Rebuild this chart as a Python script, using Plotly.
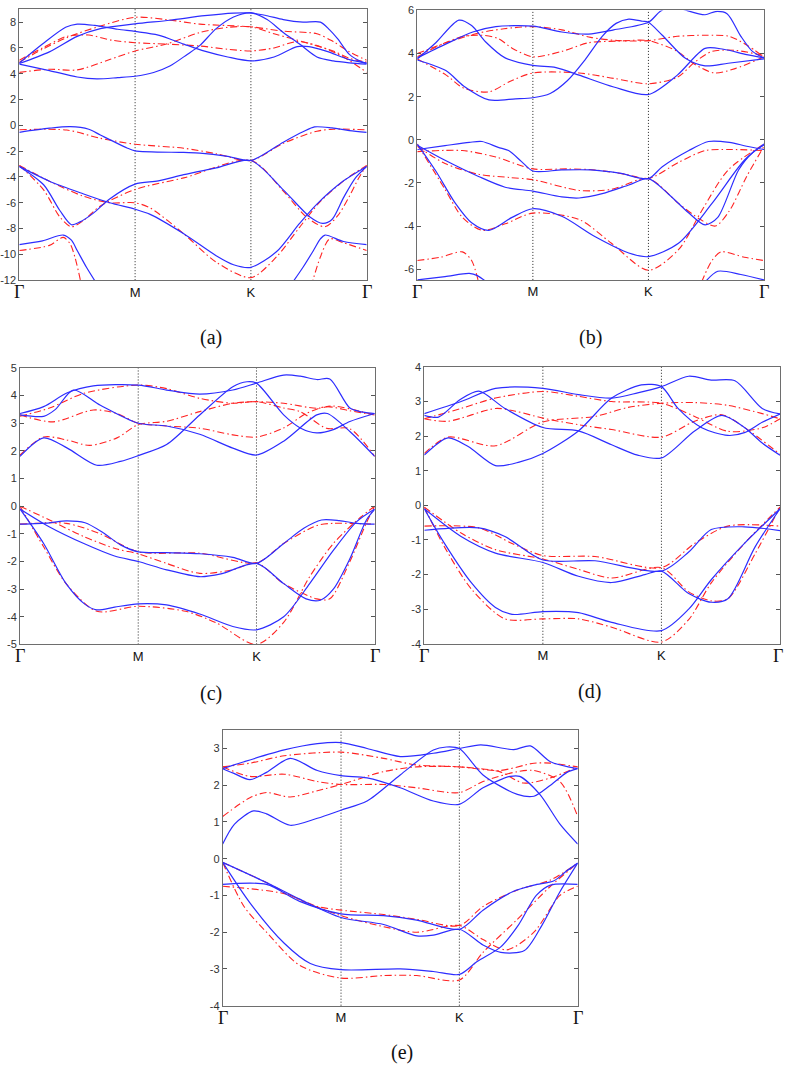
import plotly.graph_objects as go

# ---------------- data: bands as (k, E) points, k: 0=Γ,1=M,2=K,3=Γ ----------------
A_BLUE = [
    [(0,4.83),(0.2,6.3),(0.4,7.6),(0.5,7.85),(0.65,7.75),(0.85,7.45),(1,7.28),(1.2,7.0),(1.42,6.3),(1.6,5.75),(1.8,5.3),(2,5.0),(2.2,5.3),(2.4,6.1),(2.5,6.1),(2.65,5.75),(2.85,5.1),(3,4.83)],
    [(0,4.8),(0.26,5.7),(0.5,6.9),(0.7,7.5),(1,7.87),(1.3,8.15),(1.6,8.5),(1.85,8.7),(2,8.72),(2.14,8.5),(2.28,8.2),(2.45,8.0),(2.6,8.0),(2.68,7.4),(2.75,6.7),(2.85,5.5),(2.95,4.95),(3,4.8)],
    [(0,4.75),(0.26,4.25),(0.5,3.75),(0.67,3.6),(0.85,3.7),(1,3.81),(1.16,4.1),(1.3,4.6),(1.45,5.5),(1.56,6.2),(1.7,7.5),(1.85,8.4),(2,8.72),(2.14,8.2),(2.28,7.2),(2.42,6.3),(2.57,5.3),(2.71,5.0),(2.85,4.85),(3,4.75)],
    [(0,-0.54),(0.26,-0.22),(0.44,-0.1),(0.6,-0.3),(0.7,-0.75),(0.93,-1.75),(1,-1.97),(1.42,-2.1),(1.56,-2.15),(1.8,-2.4),(2,-2.72),(2.28,-1.3),(2.45,-0.5),(2.55,-0.12),(2.7,-0.2),(2.85,-0.4),(3,-0.54)],
    [(0,-3.18),(0.21,-4.6),(0.35,-6.6),(0.45,-7.7),(0.52,-7.5),(0.64,-6.8),(0.78,-5.7),(1,-4.55),(1.2,-4.3),(1.42,-3.82),(1.7,-3.3),(2,-2.72),(2.28,-5.0),(2.51,-7.1),(2.62,-7.6),(2.7,-7.3),(2.8,-5.6),(2.9,-4.1),(3,-3.18)],
    [(0,-3.18),(0.26,-4.33),(0.55,-5.3),(0.78,-6.0),(1,-6.5),(1.13,-6.9),(1.42,-8.4),(1.7,-10.1),(1.85,-10.8),(2,-11.0),(2.22,-9.8),(2.42,-7.6),(2.57,-6.1),(2.8,-4.3),(3,-3.18)],
    [(0,-9.24),(0.2,-8.95),(0.38,-8.5),(0.45,-8.9),(0.5,-9.7),(0.58,-11.0),(0.67,-12.3)],
    [(2.35,-12.3),(2.45,-11.0),(2.54,-9.7),(2.6,-8.8),(2.64,-8.5),(2.8,-9.0),(3,-9.24)],
]
A_RED = [
    [(0,5.05),(0.2,6.0),(0.41,6.9),(0.6,7.0),(0.8,6.6),(1,6.41),(1.27,6.3),(1.56,6.15),(1.8,5.9),(2,5.77),(2.2,6.0),(2.4,6.5),(2.6,6.1),(2.8,5.3),(3,4.11)],
    [(0,4.9),(0.2,5.9),(0.41,6.8),(0.7,7.7),(1,8.38),(1.27,8.2),(1.56,7.85),(2,7.64),(2.28,7.3),(2.57,7.1),(2.71,6.5),(2.85,5.7),(3,5.05)],
    [(0,4.11),(0.26,4.35),(0.5,4.3),(0.78,5.1),(1,5.77),(1.27,6.3),(1.56,7.2),(1.8,7.6),(2,7.64),(2.2,7.1),(2.48,6.4),(2.71,5.77),(2.85,5.2),(3,4.9)],
    [(0,-0.34),(0.41,-0.36),(0.7,-1.0),(1,-1.46),(1.42,-1.77),(1.7,-2.2),(2,-2.72),(2.28,-1.39),(2.57,-0.45),(2.71,-0.3),(3,-0.34)],
    [(0,-3.1),(0.26,-4.33),(0.55,-5.48),(0.78,-6.0),(1,-6.0),(1.13,-6.4),(1.42,-8.4),(1.7,-10.6),(2,-11.8),(2.22,-10.2),(2.42,-7.9),(2.6,-5.9),(2.83,-4.1),(3,-3.1)],
    [(0,-3.1),(0.21,-5.0),(0.35,-7.1),(0.45,-7.86),(0.55,-7.4),(0.7,-6.25),(1,-4.97),(1.42,-4.07),(2,-2.72),(2.28,-5.1),(2.48,-7.1),(2.64,-7.86),(2.75,-7.0),(2.85,-5.5),(2.93,-4.1),(3,-3.1)],
    [(0,-9.7),(0.26,-9.3),(0.38,-8.68),(0.44,-9.2),(0.48,-10.2),(0.54,-12.5)],
    [(2.52,-12.5),(2.6,-10.2),(2.68,-8.8),(2.8,-9.1),(3,-9.7)],
]

B_BLUE = [
    [(0,3.75),(0.16,4.5),(0.36,5.55),(0.47,5.3),(0.59,4.55),(0.76,3.8),(1,3.45),(1.2,3.35),(1.4,3.0),(1.7,2.45),(2,2.1),(2.25,3.0),(2.49,4.24),(2.65,4.2),(2.85,3.95),(3,3.8)],
    [(0,3.8),(0.25,4.45),(0.48,5.0),(0.68,5.25),(1,5.27),(1.25,5.0),(1.48,4.9),(1.7,5.1),(2,5.45),(2.1,5.95),(2.2,6.2),(2.3,6.05),(2.49,5.8),(2.58,5.95),(2.68,5.85),(2.8,4.8),(2.9,4.1),(3,3.8)],
    [(0,3.7),(0.25,3.2),(0.4,2.5),(0.62,1.85),(0.85,1.9),(1,1.95),(1.15,2.15),(1.3,2.75),(1.45,3.7),(1.6,4.8),(1.72,5.4),(1.83,5.6),(1.95,5.5),(2,5.45),(2.12,4.85),(2.32,3.78),(2.49,3.43),(2.69,3.55),(3,3.75)],
    [(0,-0.45),(0.24,-0.27),(0.45,-0.12),(0.56,-0.08),(0.7,-0.35),(0.79,-0.5),(0.9,-1.0),(1,-1.45),(1.25,-1.4),(1.5,-1.4),(1.75,-1.55),(2,-1.8),(2.12,-1.25),(2.35,-0.5),(2.52,-0.08),(2.7,-0.12),(2.85,-0.3),(3,-0.45)],
    [(0,-0.25),(0.24,-0.95),(0.53,-1.7),(0.76,-2.2),(1,-2.38),(1.25,-2.65),(1.4,-2.7),(1.6,-2.5),(1.83,-2.1),(2,-1.8),(2.17,-2.5),(2.35,-3.4),(2.49,-3.95),(2.6,-3.6),(2.78,-1.4),(2.9,-0.6),(3,-0.25)],
    [(0,-0.2),(0.16,-1.45),(0.33,-2.95),(0.47,-3.85),(0.62,-4.2),(0.82,-3.6),(1,-3.2),(1.25,-3.55),(1.54,-4.5),(1.83,-5.25),(2,-5.42),(2.26,-4.8),(2.55,-2.95),(2.83,-0.95),(3,-0.2)],
    [(0,-6.5),(0.24,-6.35),(0.45,-6.2),(0.52,-6.3),(0.6,-6.6)],
    [(2.49,-6.6),(2.6,-6.1),(2.8,-6.25),(3,-6.5)],
]
B_RED = [
    [(0,4.0),(0.25,4.5),(0.53,4.95),(0.75,5.15),(1,5.25),(1.25,5.1),(1.5,4.75),(1.75,4.6),(2,4.6),(2.25,4.8),(2.5,4.85),(2.7,4.8),(2.85,4.4),(3,3.85)],
    [(0,3.85),(0.2,4.4),(0.4,4.8),(0.56,4.85),(0.7,4.7),(0.82,4.25),(1,3.85),(1.25,4.1),(1.48,4.5),(1.75,4.58),(2,4.6),(2.25,4.1),(2.4,3.5),(2.57,3.1),(2.75,3.3),(3,3.85)],
    [(0,3.75),(0.25,3.0),(0.4,2.4),(0.62,2.22),(0.8,2.7),(1,3.1),(1.4,3.1),(1.7,2.85),(2,2.6),(2.25,2.9),(2.4,3.6),(2.55,4.1),(2.75,4.15),(3,3.9)],
    [(0,-0.55),(0.39,-0.5),(0.68,-0.8),(1,-1.35),(1.3,-1.35),(1.54,-1.4),(1.8,-1.6),(2,-1.8),(2.26,-1.05),(2.49,-0.5),(2.7,-0.45),(3,-0.5)],
    [(0,-0.3),(0.24,-1.1),(0.53,-1.6),(0.8,-1.75),(1,-1.85),(1.4,-2.35),(1.68,-2.3),(2,-1.8),(2.26,-2.95),(2.45,-3.7),(2.58,-4.0),(2.7,-3.3),(2.85,-1.7),(3,-0.3)],
    [(0,-0.2),(0.24,-2.3),(0.39,-3.6),(0.56,-4.2),(0.76,-3.9),(1,-3.4),(1.4,-3.7),(1.68,-4.8),(2,-6.05),(2.26,-5.1),(2.46,-3.3),(2.69,-1.4),(3,-0.2)],
    [(0,-5.6),(0.2,-5.45),(0.39,-5.2),(0.47,-5.6),(0.53,-6.6)],
    [(2.46,-6.6),(2.55,-5.6),(2.63,-5.2),(2.83,-5.45),(3,-5.6)],
]

C_BLUE = [
    [(0,1.8),(0.2,2.47),(0.4,2.1),(0.65,1.48),(0.85,1.62),(1,1.83),(1.24,2.23),(1.52,3.3),(1.8,4.32),(1.92,4.5),(2,4.45),(2.23,3.3),(2.37,2.83),(2.51,2.65),(2.65,2.77),(2.79,3.06),(3,3.35)],
    [(0,3.35),(0.2,3.6),(0.4,4.1),(0.62,4.35),(1,4.38),(1.24,4.2),(1.52,4.05),(1.8,4.2),(2,4.45),(2.23,4.74),(2.37,4.7),(2.51,4.58),(2.62,4.6),(2.79,3.55),(2.9,3.4),(3,3.35)],
    [(0,3.3),(0.2,3.25),(0.3,3.5),(0.45,4.2),(0.68,3.65),(1,3.0),(1.24,2.9),(1.52,2.6),(1.8,2.1),(2,1.85),(2.23,2.35),(2.51,3.3),(2.6,3.35),(2.79,2.7),(3,1.8)],
    [(0,-0.65),(0.25,-0.6),(0.39,-0.53),(0.55,-0.6),(0.7,-0.95),(0.85,-1.4),(1,-1.65),(1.24,-1.68),(1.52,-1.72),(1.8,-1.85),(2,-2.07),(2.23,-1.35),(2.4,-0.8),(2.55,-0.5),(2.7,-0.52),(2.85,-0.62),(3,-0.65)],
    [(0,-0.1),(0.25,-0.75),(0.54,-1.35),(0.8,-1.8),(1,-2.0),(1.24,-2.3),(1.52,-2.55),(1.7,-2.45),(2,-2.07),(2.23,-2.8),(2.42,-3.35),(2.54,-3.4),(2.65,-3.0),(2.79,-1.9),(2.93,-0.5),(3,-0.12)],
    [(0,-0.1),(0.2,-1.35),(0.39,-2.8),(0.55,-3.55),(0.65,-3.75),(0.8,-3.65),(1,-3.53),(1.24,-3.57),(1.52,-3.9),(1.8,-4.35),(2,-4.47),(2.23,-4.0),(2.45,-2.8),(2.65,-1.6),(2.85,-0.55),(3,-0.1)],
]
C_RED = [
    [(0,1.85),(0.2,2.5),(0.39,2.4),(0.59,2.2),(0.82,2.47),(1,2.95),(1.24,3.07),(1.52,3.42),(1.8,3.72),(2,3.78),(2.23,3.72),(2.51,3.54),(2.65,3.62),(3,3.3)],
    [(0,3.3),(0.28,3.05),(0.62,3.48),(0.82,3.35),(1,3.0),(1.24,2.9),(1.52,2.82),(1.8,2.58),(2,2.5),(2.23,2.83),(2.42,3.35),(2.59,3.6),(2.79,3.45),(3,3.3)],
    [(0,3.25),(0.25,3.55),(0.54,4.08),(1,4.38),(1.24,4.25),(1.52,3.9),(1.8,3.72),(2,3.78),(2.23,3.55),(2.37,3.42),(2.59,2.82),(2.79,2.8),(3,1.8)],
    [(0,-0.65),(0.39,-0.62),(0.68,-1.0),(1,-1.65),(1.52,-1.7),(2,-2.05),(2.23,-1.35),(2.51,-0.7),(2.65,-0.62),(3,-0.65)],
    [(0,0.0),(0.25,-0.5),(0.54,-1.1),(0.82,-1.55),(1,-1.72),(1.24,-2.07),(1.52,-2.43),(1.8,-2.3),(2,-2.05),(2.23,-2.8),(2.51,-3.35),(2.62,-3.35),(2.79,-2.0),(2.93,-0.6),(3,0.0)],
    [(0,0.0),(0.2,-1.47),(0.39,-2.8),(0.65,-3.8),(1,-3.62),(1.4,-3.8),(1.66,-4.22),(2,-5.0),(2.23,-4.2),(2.45,-2.55),(2.65,-1.35),(2.88,-0.4),(3,0.0)],
]

D_BLUE = [
    [(0,1.45),(0.2,1.95),(0.37,1.7),(0.6,1.15),(0.8,1.25),(1,1.5),(1.3,2.15),(1.58,3.1),(1.83,3.48),(2,3.43),(2.14,2.8),(2.34,2.24),(2.56,2.02),(2.7,2.1),(2.85,2.4),(3,2.64)],
    [(0,2.6),(0.12,2.55),(0.3,3.05),(0.46,3.3),(0.68,2.8),(1,2.25),(1.3,2.15),(1.58,1.75),(1.8,1.45),(2,1.37),(2.28,2.15),(2.51,2.6),(2.7,2.25),(2.85,1.8),(3,1.45)],
    [(0,2.65),(0.31,3.0),(0.6,3.38),(1,3.38),(1.3,3.2),(1.58,3.1),(1.8,3.25),(2,3.43),(2.23,3.73),(2.42,3.62),(2.62,3.6),(2.85,2.8),(3,2.64)],
    [(0,-0.72),(0.46,-0.65),(0.68,-0.9),(1,-1.58),(1.44,-1.6),(2,-1.9),(2.23,-1.35),(2.42,-0.7),(2.7,-0.62),(3,-0.73)],
    [(0,-0.1),(0.31,-0.9),(0.6,-1.38),(1,-1.65),(1.3,-2.05),(1.58,-2.23),(1.86,-2.0),(2,-1.9),(2.23,-2.55),(2.42,-2.8),(2.56,-2.7),(2.79,-1.2),(3,-0.1)],
    [(0,-0.1),(0.17,-1.1),(0.4,-2.25),(0.6,-2.95),(0.74,-3.15),(1,-3.07),(1.3,-3.1),(1.58,-3.38),(2,-3.62),(2.23,-3.0),(2.42,-2.15),(2.7,-1.1),(3,-0.1)],
]
D_RED = [
    [(0,1.5),(0.2,1.97),(0.6,1.72),(1,2.41),(1.44,2.57),(1.72,2.83),(2,2.95),(2.28,2.97),(2.56,2.89),(2.85,2.65),(3,2.5)],
    [(0,2.5),(0.2,2.43),(0.6,2.8),(0.77,2.72),(1,2.52),(1.3,2.33),(1.58,2.19),(2,1.97),(2.28,2.43),(2.51,2.62),(2.7,2.25),(3,1.48)],
    [(0,2.5),(0.31,2.8),(0.6,3.1),(1,3.29),(1.3,3.15),(1.58,3.0),(2,2.95),(2.28,2.57),(2.56,2.14),(2.85,2.24),(3,2.5)],
    [(0,-0.6),(0.46,-0.65),(0.74,-1.1),(1,-1.45),(1.44,-1.48),(2,-1.8),(2.28,-1.1),(2.56,-0.6),(3,-0.6)],
    [(0,-0.05),(0.31,-0.8),(0.6,-1.28),(1,-1.55),(1.3,-1.85),(1.58,-2.1),(2,-1.8),(2.23,-2.5),(2.42,-2.76),(2.56,-2.7),(2.79,-1.4),(3,-0.05)],
    [(0,-0.05),(0.17,-1.2),(0.4,-2.43),(0.68,-3.28),(1,-3.28),(1.3,-3.28),(1.58,-3.52),(2,-3.95),(2.23,-3.3),(2.42,-2.24),(2.7,-1.1),(3,-0.05)],
]

E_BLUE = [
    [(0,0.4),(0.1,0.94),(0.26,1.3),(0.37,1.22),(0.57,0.91),(0.8,1.1),(1,1.32),(1.22,1.57),(1.5,2.28),(1.78,2.96),(1.89,3.04),(2,3.0),(2.2,2.28),(2.49,1.75),(2.63,1.7),(2.77,2.0),(2.91,2.35),(3,2.45)],
    [(0,2.45),(0.18,2.64),(0.52,2.96),(0.8,3.13),(1,3.16),(1.22,3.0),(1.5,2.78),(1.78,2.87),(2,3.0),(2.18,3.1),(2.46,2.97),(2.6,3.07),(2.77,2.64),(3,2.45)],
    [(0,2.45),(0.09,2.33),(0.23,2.15),(0.37,2.35),(0.57,2.73),(0.8,2.4),(1,2.26),(1.22,2.2),(1.5,1.93),(1.78,1.57),(2,1.48),(2.2,1.93),(2.43,2.24),(2.51,2.24),(2.68,1.75),(2.85,0.94),(3,0.4)],
    [(0,-0.7),(0.37,-0.7),(0.65,-1.16),(1,-1.5),(1.36,-1.55),(1.64,-1.67),(2,-1.92),(2.2,-1.4),(2.45,-0.9),(2.63,-0.72),(2.8,-0.6),(2.9,-0.35),(3,-0.12)],
    [(0,-0.1),(0.37,-0.65),(0.65,-1.1),(1,-1.6),(1.36,-1.79),(1.64,-2.1),(1.78,-2.08),(2,-1.92),(2.2,-2.35),(2.35,-2.55),(2.55,-2.5),(2.7,-1.8),(2.85,-0.9),(3,-0.12)],
    [(0,-0.1),(0.23,-1.2),(0.52,-2.3),(0.74,-2.85),(1,-3.02),(1.5,-3.0),(1.78,-3.07),(2,-3.15),(2.15,-2.8),(2.35,-2.4),(2.5,-1.8),(2.65,-1.0),(2.77,-0.72),(3,-0.7)],
]
E_RED = [
    [(0,1.15),(0.23,1.66),(0.37,1.8),(0.57,1.68),(0.8,1.85),(1,2.02),(1.36,2.37),(1.64,2.5),(2,2.5),(2.34,2.4),(2.63,2.6),(2.77,2.6),(3,2.5)],
    [(0,2.5),(0.23,2.24),(0.52,2.3),(0.8,2.1),(1,2.02),(1.36,2.02),(1.64,1.93),(2,1.8),(2.2,2.1),(2.49,2.37),(2.63,2.4),(2.85,2.1),(3,1.15)],
    [(0,2.5),(0.23,2.6),(0.52,2.8),(1,2.9),(1.36,2.73),(1.64,2.55),(2,2.5),(2.34,2.37),(2.54,2.06),(2.77,2.2),(3,2.5)],
    [(0,-0.75),(0.52,-0.95),(0.8,-1.3),(1,-1.4),(1.36,-1.52),(1.64,-1.65),(2,-1.82),(2.2,-1.3),(2.49,-0.85),(2.77,-0.58),(3,-0.12)],
    [(0,-0.1),(0.37,-0.65),(0.65,-1.12),(1,-1.55),(1.36,-1.85),(1.64,-2.0),(2,-1.82),(2.2,-2.2),(2.4,-2.48),(2.63,-2.0),(2.85,-1.0),(3,-0.75)],
    [(0,-0.1),(0.18,-1.3),(0.37,-2.0),(0.65,-2.9),(1,-3.25),(1.36,-3.18),(1.64,-3.18),(2,-3.3),(2.2,-2.55),(2.49,-1.65),(2.77,-0.75),(3,-0.12)],
]

K_TICKS = [0, 1, 2, 3]
K_LABELS = ["Γ", "M", "K", "Γ"]
PANEL_LABELS = ["(a)", "(b)", "(c)", "(d)", "(e)"]
Y_RANGES = [(-12, 9), (-6.5, 6), (-5, 5), (-4, 4), (-4, 3.5)]
Y_TICKS = [list(range(-12, 9, 2)), list(range(-6, 7, 2)), list(range(-5, 6)), list(range(-4, 5)), list(range(-4, 4))]

# ---------------- layout ----------------
W, H = 787, 1072
# plot boxes in pixels: (left, right, top, bottom)
BOXES = [(19.3, 366.7, 3.3, 277.3), (417.3, 764, 4.5, 277), (20, 374.7, 366, 645.7),
         (424.3, 780, 365, 645), (222.7, 577.7, 732.3, 1011)]
LABEL_POS = [(211, 335), (590, 335), (211, 695), (589, 693), (402, 1058)]

BLUE = "rgb(45,45,255)"
RED = "rgb(255,35,35)"

fig = go.Figure()
panels = [(A_BLUE, A_RED), (B_BLUE, B_RED), (C_BLUE, C_RED), (D_BLUE, D_RED), (E_BLUE, E_RED)]

for i, (blues, reds) in enumerate(panels):
    n = "" if i == 0 else str(i + 1)
    xa, ya = "x" + n, "y" + n
    for band in reds:
        fig.add_trace(go.Scatter(x=[p[0] for p in band], y=[p[1] for p in band], mode="lines",
                                 line=dict(color=RED, width=1.1, dash="7px,3px,1.5px,3px", shape="spline", smoothing=0.8),
                                 xaxis=xa, yaxis=ya, showlegend=False, hoverinfo="skip"))
    for band in blues:
        fig.add_trace(go.Scatter(x=[p[0] for p in band], y=[p[1] for p in band], mode="lines",
                                 line=dict(color=BLUE, width=1.2, shape="spline", smoothing=0.8),
                                 xaxis=xa, yaxis=ya, showlegend=False, hoverinfo="skip"))

    l, r, t, b = BOXES[i]
    # sans-serif M/K as tick labels; serif Γ drawn as annotations below
    ticktext_x = ["" if s == "Γ" else s for s in K_LABELS]
    fig.update_layout(**{
        ("xaxis" + n): dict(domain=[l / W, r / W], anchor=ya, range=[0, 3], tickvals=K_TICKS,
                            ticktext=ticktext_x, showgrid=False, zeroline=False, showline=True,
                            linecolor="#6e6e6e", linewidth=1, mirror="ticks", ticks="inside",
                            ticklen=0, tickfont=dict(family="Liberation Sans", size=13, color="#111"),
                            fixedrange=True),
        ("yaxis" + n): dict(domain=[1 - b / H, 1 - t / H], anchor=xa, range=list(Y_RANGES[i]),
                            tickvals=Y_TICKS[i], ticktext=[str(v) for v in Y_TICKS[i]],
                            showgrid=False, zeroline=False, showline=True, linecolor="#6e6e6e",
                            linewidth=1, mirror="ticks", ticks="inside", ticklen=4, tickcolor="#555",
                            tickfont=dict(family="Liberation Sans", size=11, color="#333"),
                            fixedrange=True),
    })
    for kv, s in zip(K_TICKS, K_LABELS):
        if s == "Γ":
            shift = -2 if (kv == 3 and r > W - 12) else 0
            fig.add_annotation(text=s, xref=xa, yref="paper", x=kv, y=1 - (b + 1) / H,
                               xshift=shift, showarrow=False, xanchor="center", yanchor="top",
                               borderpad=0,
                               font=dict(family="Liberation Serif", size=18, color="#111"))
    for xv in (1, 2):
        fig.add_shape(type="line", xref=xa, yref=ya + " domain", x0=xv, x1=xv, y0=0, y1=1,
                      line=dict(color="#222", width=1, dash="1px,2px"), layer="below")
    lx, ly = LABEL_POS[i]
    fig.add_annotation(text=PANEL_LABELS[i], xref="paper", yref="paper", x=lx / W, y=1 - ly / H,
                       showarrow=False, font=dict(family="Liberation Serif", size=20, color="#111"),
                       xanchor="center", yanchor="middle")

fig.update_layout(width=W, height=H, margin=dict(l=0, r=0, t=0, b=0),
                  paper_bgcolor="white", plot_bgcolor="white")
# remove the browser's default page margin so the figure sits at the window's top-left corner
fig.write_html("out.html", config={"displayModeBar": False},
               post_script="document.body.style.margin='0';")
